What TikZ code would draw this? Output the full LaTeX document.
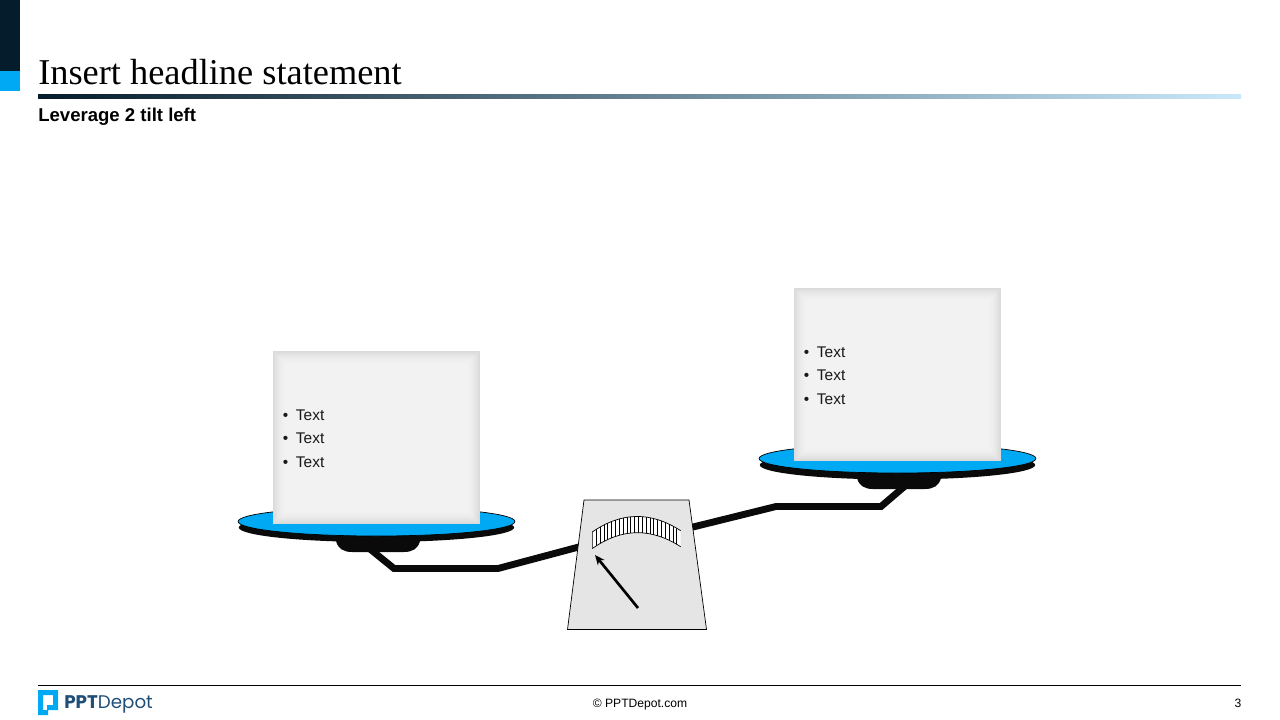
\documentclass[tikz,border=0pt]{standalone}
\usepackage{fontspec}
\setmainfont{Liberation Sans}
\newfontfamily\titlefont{Liberation Serif}
\newfontfamily\logofont{Poppins}
\usetikzlibrary{positioning, shapes.geometric, arrows.meta}
\definecolor{navy}{HTML}{041C2C}
\definecolor{skyblue}{HTML}{00A9F4}
\definecolor{midblue}{HTML}{3F8CBC}
\definecolor{paleblue}{HTML}{C9E9FA}
\definecolor{logoblue}{HTML}{1F4E79}
\definecolor{panelgray}{HTML}{F2F2F2}
\definecolor{edgegray}{HTML}{DADADA}
\definecolor{leverblack}{HTML}{0A0A0A}
\newcommand{\bulletline}{\textbullet\hspace{5.4pt}Text}
\tikzset{
  platetop/.style = {ellipse, draw = black, line width = 0.5pt, fill = skyblue, minimum width = 6.92cm, minimum height = 0.725cm, inner sep = 0pt},
  platebase/.style = {ellipse, fill = leverblack, minimum width = 6.88cm, minimum height = 0.725cm, inner sep = 0pt},
  lever/.style = {draw = leverblack, line width = 4.9pt, line join = miter},
  tick/.style = {line width = 0.55pt},
  textbox/.style = {rectangle, minimum width = 5.175cm, minimum height = 4.325cm, inner sep = 0pt, text width = 4.675cm, align = left,
    font = \fontsize{11}{16.4}\selectfont, text = black!90,
    path picture = {
      \foreach \i in {0,...,14} {
        \pgfmathtruncatemacro{\mixval}{100-100*(1-\i/14)*(1-\i/14)}
        \fill[panelgray!\mixval!edgegray]
          ([xshift = \i*0.025cm, yshift = -\i*0.025cm]path picture bounding box.north west)
          rectangle ([xshift = -\i*0.025cm, yshift = \i*0.025cm]path picture bounding box.south east);
      }
    }},
  headline/.style = {anchor = base west, inner sep = 0pt}
}

\begin{document}
\begin{tikzpicture}[x = 0.025cm, y = -0.025cm]
    \useasboundingbox (0,0) rectangle (1280,720);
    % header
    \fill[navy] (0,0) rectangle (20,71);
    \fill[skyblue] (0,71) rectangle (20,91);
    \node[headline, font = \titlefont\fontsize{25.85}{30}\selectfont] (title) at (38,85) {Insert headline statement};
    \shade[left color = navy, middle color = midblue, right color = paleblue] (38,95) rectangle (1241,99);
    \node[headline, font = \bfseries\fontsize{13.2}{16}\selectfont] (subtitle) at (38,122) {Leverage 2 tilt left};

    % levers
    \coordinate (leftend) at (370,549);
    \coordinate (leftknee) at (394,568.5);
    \coordinate (leftbend) at (498,568.5);
    \coordinate (gaugeleft) at (590,544);
    \coordinate (gaugeright) at (685,529);
    \coordinate (rightbend) at (776,506.5);
    \coordinate (rightknee) at (881,506.5);
    \coordinate (rightend) at (905,486);
    \draw[lever] (leftend) -- (leftknee) -- (leftbend) -- (gaugeleft);
    \draw[lever] (gaugeright) -- (rightbend) -- (rightknee) -- (rightend);

    % left pan
    \fill[leverblack] (336,530) -- (336,541) .. controls (338,549) and (344,552) .. (352,552) -- (404,552) .. controls (412,552) and (418,549) .. (420,541) -- (420,530) -- cycle;
    \node[platebase] (leftbase) at (376.5,527.5) {};
    \node[platetop] (leftpan) at (376.5,521.5) {};
    \node[textbox] (leftbox) at (376.5,437.5) {\rule{0pt}{9.3pt}\bulletline\\\bulletline\\\bulletline};

    % right pan
    \fill[leverblack] (857,467) -- (857,478) .. controls (859,486) and (865,489) .. (873,489) -- (925,489) .. controls (933,489) and (939,486) .. (941,478) -- (941,467) -- cycle;
    \node[platebase] (rightbase) at (897.5,465) {};
    \node[platetop] (rightpan) at (897.5,458.5) {};
    \node[textbox] (rightbox) at (897.5,374.5) {\rule{0pt}{9.3pt}\bulletline\\\bulletline\\\bulletline};

    % gauge
    \draw[draw = black, line width = 0.5pt, fill = black!10] (584,500) -- (689,500) -- (706.5,629.5) -- (567.5,629.5) -- cycle;
    \begin{scope}
      \fill[white] (592.3,532) .. controls (622,511.5) and (651,511.5) .. (680.7,530.7) -- (680.7,546.7) .. controls (651,527.7) and (622,527.7) .. (592.3,548.5) -- cycle;
      \clip (592.3,532) .. controls (622,511.5) and (651,511.5) .. (680.7,530.7) -- (680.7,546.7) .. controls (651,527.7) and (622,527.7) .. (592.3,548.5) -- cycle;
      \foreach \x in {0,...,23}
        \draw[tick] (592.5+\x*3.83,510) -- (592.5+\x*3.83,555);
    \end{scope}
    \draw[line width = 0.5pt] (592.3,532) .. controls (622,511.5) and (651,511.5) .. (680.7,530.7);
    \draw[line width = 0.5pt] (592.3,548.5) .. controls (622,527.7) and (651,527.7) .. (680.7,546.7);
    \coordinate (needlebase) at (638,608);
    \coordinate (needletip) at (595,555);
    \draw[line width = 1.9pt, -{Stealth[length = 7pt, width = 6pt]}] (needlebase) -- (needletip);

    % footer
    \draw[line width = 0.7pt] (38,685.5) -- (1241,685.5);
    \fill[skyblue, even odd rule] (38,690) -- (58,690) -- (58,710) -- (48,710) -- (48,715) -- (38,715) -- cycle
      (43,695) -- (53,695) -- (53,705) -- (47,705) -- (47,710) -- (43,710) -- cycle;
    \node[anchor = base west, inner sep = 0pt, text = logoblue, font = \logofont\fontsize{13}{16}\selectfont] (logo) at (64,708) {\textbf{PPT}Depot};
    \node[inner sep = 0pt, font = \fontsize{8.6}{10}\selectfont] (copyright) at (640,704.5) {© PPTDepot.com};
    \node[inner sep = 0pt, font = \fontsize{8.6}{10}\selectfont] (pagenum) at (1238,703) {3};
\end{tikzpicture}
\end{document}
